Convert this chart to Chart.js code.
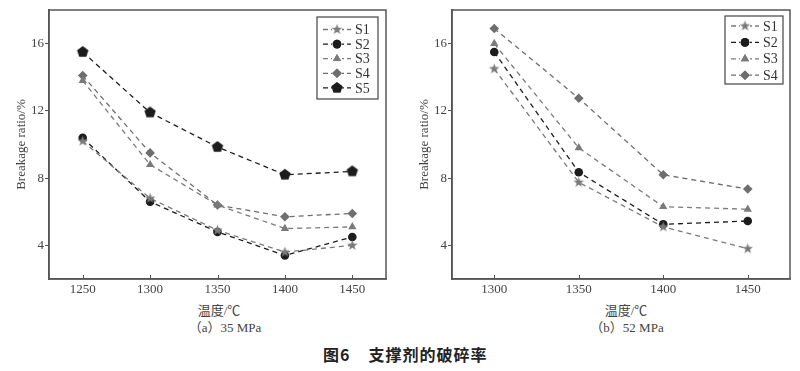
<!DOCTYPE html>
<html>
<head>
<meta charset="utf-8">
<script src="https://cdn.jsdelivr.net/npm/chart.js@4.4.1/dist/chart.umd.min.js"></script>
<style>
  body { margin: 0; background: #fff; }
  #wrap { position: relative; width: 800px; height: 371px; overflow: hidden; }
  canvas { position: absolute; top: 0; }
  .txt { position: absolute; font-family: "Liberation Serif", "Noto Sans CJK SC", serif; color: #444; font-size: 13px; white-space: nowrap; transform: translateX(-50%); }
  .cap { position: absolute; font-family: "Noto Sans CJK SC", sans-serif; font-weight: bold; color: #222; font-size: 16px; letter-spacing: 1px; white-space: nowrap; }
</style>
</head>
<body>
<div id="wrap">
  <canvas id="chartA" width="400" height="300" style="left:0"></canvas>
  <canvas id="chartB" width="400" height="300" style="left:400px"></canvas>
  <div class="txt" style="left:219px;top:300px">温度/℃</div>
  <div class="txt" style="left:225px;top:317px">（a）35 MPa</div>
  <div class="txt" style="left:626px;top:300px">温度/℃</div>
  <div class="txt" style="left:627px;top:317px">（b）52 MPa</div>
  <div class="cap" style="left:323px;top:342px">图6<span style="display:inline-block;width:18px"></span>支撑剂的破碎率</div>
</div>
<script>
// (a) 35 MPa
const tempA = [1250, 1300, 1350, 1400, 1450];
const s1A = [10.2, 6.8, 4.9, 3.6, 4.0];
const s2A = [10.4, 6.6, 4.8, 3.4, 4.5];
const s3A = [13.8, 8.8, 6.4, 5.0, 5.1];
const s4A = [14.1, 9.5, 6.4, 5.7, 5.9];
const s5A = [15.5, 11.9, 9.85, 8.2, 8.4];

// (b) 52 MPa
const tempB = [1300, 1350, 1400, 1450];
const s1B = [14.5, 7.75, 5.1, 3.8];
const s2B = [15.5, 8.35, 5.25, 5.45];
const s3B = [16.0, 9.8, 6.3, 6.15];
const s4B = [16.9, 12.75, 8.2, 7.35];

const yTicks = [4, 8, 12, 16];
const xTicksA = [1250, 1300, 1350, 1400, 1450];
const xTicksB = [1300, 1350, 1400, 1450];

const serif = "'Liberation Serif', 'Times New Roman', serif";
Chart.defaults.font.family = serif;
Chart.defaults.font.size = 13;
Chart.defaults.color = "#444";

// filled star / pentagon markers
function polyMarker(n, rOut, rIn, color) {
  const c = document.createElement("canvas");
  const s = Math.ceil(rOut * 2 + 2);
  c.width = s; c.height = s;
  const ctx = c.getContext("2d");
  ctx.fillStyle = color;
  ctx.beginPath();
  const pts = rIn ? n * 2 : n;
  for (let i = 0; i < pts; i++) {
    const r = rIn && i % 2 ? rIn : rOut;
    const a = -Math.PI / 2 + i * Math.PI * 2 / pts;
    const x = s / 2 + r * Math.cos(a), y = s / 2 + r * Math.sin(a);
    i ? ctx.lineTo(x, y) : ctx.moveTo(x, y);
  }
  ctx.closePath();
  ctx.fill();
  return c;
}

const gray = "#7a7a7a";
const dark = "#1c1c1c";
const starImg = polyMarker(5, 5.5, 2.3, gray);
const pentImg = polyMarker(5, 6, 0, dark);

function ds(label, xs, ys, color, style, r) {
  return {
    label: label,
    data: xs.map((x, i) => ({ x: x, y: ys[i] })),
    borderColor: color,
    backgroundColor: color,
    borderWidth: 1.3,
    borderDash: [5, 4],
    pointStyle: style,
    pointRadius: r,
    pointHoverRadius: r,
    pointBorderWidth: 0,
  };
}

// frame, inward x ticks and boxed legend drawn on the canvas
const framePlugin = {
  id: "frame",
  afterDraw(chart, args, opts) {
    const { ctx, chartArea: a } = chart;
    ctx.save();
    ctx.strokeStyle = "#555";
    ctx.lineWidth = 1.5;
    ctx.strokeRect(a.left, a.top, a.right - a.left, a.bottom - a.top);
    ctx.lineWidth = 1;
    const xs = chart.scales.x;
    xs.ticks.forEach((t) => {
      const px = Math.round(xs.getPixelForValue(t.value)) + 0.5;
      ctx.beginPath();
      ctx.moveTo(px, a.bottom);
      ctx.lineTo(px, a.bottom - 4);
      ctx.stroke();
    });

    const b = opts.box;
    ctx.lineWidth = 1.2;
    ctx.strokeStyle = "#444";
    ctx.strokeRect(b.x, b.y, b.w, b.h);
    chart.data.datasets.forEach((d, i) => {
      const y = b.y + b.first + i * b.step;
      ctx.strokeStyle = d.borderColor;
      ctx.lineWidth = 1.3;
      ctx.setLineDash([5, 3]);
      ctx.beginPath();
      ctx.moveTo(b.x + 6, y);
      ctx.lineTo(b.x + 34, y);
      ctx.stroke();
      ctx.setLineDash([]);
      const mx = b.x + 20;
      ctx.fillStyle = "#fff";
      ctx.fillRect(mx - 5, y - 5, 10, 10);
      if (d.pointStyle instanceof HTMLCanvasElement) {
        ctx.drawImage(d.pointStyle, mx - d.pointStyle.width / 2, y - d.pointStyle.height / 2);
      } else {
        ctx.fillStyle = d.backgroundColor;
        Chart.helpers.drawPoint(ctx, { pointStyle: d.pointStyle, radius: d.pointRadius, borderWidth: 0 }, mx, y);
        ctx.fill();
      }
      ctx.fillStyle = "#333";
      ctx.font = "14px " + serif;
      ctx.textBaseline = "middle";
      ctx.fillText(d.label, b.x + 38, y + 1);
    });
    ctx.restore();
  },
};

function makeChart(id, datasets, xMin, xMax, xTicks, yWidth, padRight, titlePad, box) {
  return new Chart(document.getElementById(id), {
    type: "line",
    data: { datasets: datasets },
    plugins: [framePlugin],
    options: {
      responsive: false,
      animation: false,
      layout: { padding: { left: 0, right: padRight, top: 10, bottom: 0 } },
      plugins: { legend: { display: false }, tooltip: { enabled: false }, frame: { box: box } },
      scales: {
        x: {
          type: "linear",
          min: xMin,
          max: xMax,
          afterBuildTicks: (s) => { s.ticks = xTicks.map((v) => ({ value: v })); },
          afterFit: (s) => { s.height = 21; },
          grid: { drawOnChartArea: false, drawTicks: false, tickLength: 0 },
          border: { color: "#555", width: 1.5 },
          ticks: { padding: 3, callback: (v) => String(v) },
        },
        y: {
          min: 2,
          max: 18,
          afterBuildTicks: (s) => { s.ticks = yTicks.map((v) => ({ value: v })); },
          afterFit: (s) => { s.width = yWidth; },
          grid: { drawOnChartArea: false, tickLength: 4, color: "#555" },
          border: { color: "#555", width: 1.5 },
          ticks: { padding: 1 },
          title: {
            display: true,
            text: "Breakage ratio/%",
            padding: { top: titlePad, bottom: 0 },
          },
        },
      },
    },
  });
}

makeChart("chartA", [
  ds("S1", tempA, s1A, gray, starImg, 5),
  ds("S2", tempA, s2A, dark, "circle", 4.3),
  ds("S3", tempA, s3A, gray, "triangle", 4.8),
  ds("S4", tempA, s4A, "#6e6e6e", "rectRot", 4.8),
  ds("S5", tempA, s5A, dark, pentImg, 5),
], 1225, 1475, xTicksA, 49, 14, 14, { x: 317, y: 17, w: 61, h: 82, first: 12.5, step: 14.6 });

makeChart("chartB", [
  ds("S1", tempB, s1B, gray, starImg, 5),
  ds("S2", tempB, s2B, dark, "circle", 4.3),
  ds("S3", tempB, s3B, gray, "triangle", 4.8),
  ds("S4", tempB, s4B, "#6e6e6e", "rectRot", 4.8),
], 1275, 1475, xTicksB, 52, 10, 17, { x: 325, y: 16, w: 58, h: 68, first: 10, step: 16.4 });
</script>
</body>
</html>
